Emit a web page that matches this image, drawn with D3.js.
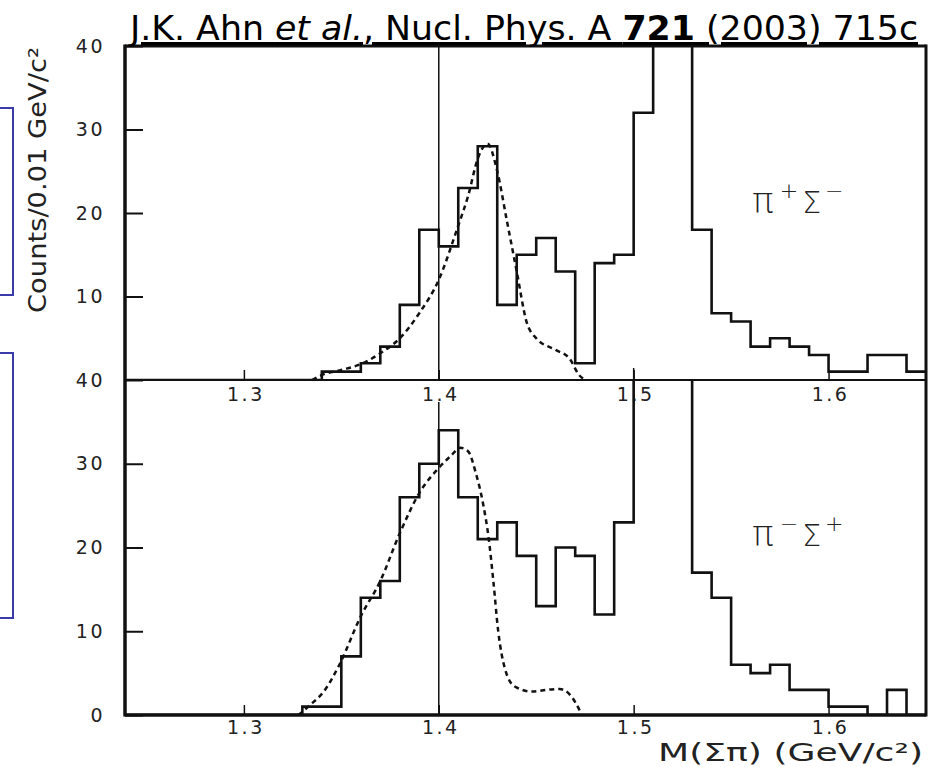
<!DOCTYPE html>
<html>
<head>
<meta charset="utf-8">
<script src="https://cdn.jsdelivr.net/npm/d3@7"></script>
<style>
  body { margin: 0; background: #fff; }
  svg { display: block; }
  .tick text { font-family: "DejaVu Sans", sans-serif; font-size: 19px; letter-spacing: 2.5px; fill: #222; }
  .narrow { font-family: "Liberation Sans Narrow", "DejaVu Sans Condensed", sans-serif; }
</style>
</head>
<body>
<svg id="chart" width="934" height="767"></svg>
<script>
// bin left edges, 0.01 GeV wide, from 1.24 to 1.64
const binEdges = d3.range(41).map(i => +(1.24 + i * 0.01).toFixed(2));

// pi+ Sigma- counts per bin (bins above 40 run off the panel)
const countsPlus = [
  0, 0, 0, 0, 0, 0, 0, 0, 0, 0,
  1, 1, 2, 4, 9, 18, 16, 23, 28, 9,
  15, 17, 13, 2, 14, 15, 32, 50, 60, 18,
  8, 7, 4, 5, 4, 3, 1, 1, 3, 3, 1
];

// pi- Sigma+ counts per bin
const countsMinus = [
  0, 0, 0, 0, 0, 0, 0, 0, 0, 1,
  1, 7, 14, 16, 26, 30, 34, 26, 21, 23,
  19, 13, 20, 19, 12, 23, 50, 60, 50, 17,
  14, 6, 5, 6, 3, 3, 1, 1, 0, 3, 0
];

// dashed fit curves
const fitPlusX = [1.335, 1.34, 1.35, 1.36, 1.37, 1.38, 1.39, 1.40, 1.41, 1.415, 1.42, 1.425, 1.43, 1.435, 1.44, 1.445, 1.45, 1.46, 1.467, 1.472, 1.475];
const fitPlusY = [0, 0.6, 1.2, 1.9, 3.2, 5, 8, 12, 18.5, 22, 26.5, 28.3, 25, 19, 13, 7, 5, 3.6, 2.6, 0.6, 0];
const fitMinusX = [1.328, 1.334, 1.341, 1.349, 1.36, 1.37, 1.38, 1.39, 1.40, 1.406, 1.411, 1.415, 1.419, 1.423, 1.4255, 1.428, 1.4305, 1.434, 1.439, 1.448, 1.455, 1.462, 1.467, 1.4735];
const fitMinusY = [0, 1.2, 2.8, 6, 11.8, 16, 21.7, 26.5, 29.5, 30.9, 31.9, 31.5, 28.9, 24.9, 21.3, 16, 10, 5.5, 3.4, 2.8, 3, 3.1, 2.5, 0];

const xTicks = [1.3, 1.4, 1.5, 1.6];
const yTicks = [10, 20, 30, 40];

const svg = d3.select("#chart");
const x = d3.scaleLinear().domain([1.239, 1.65]).range([125, 926]);
const yTop = d3.scaleLinear().domain([0, 40]).range([380, 46]);
const yBot = d3.scaleLinear().domain([0, 40]).range([715, 380]);

// blue boxes at the left edge
svg.append("rect").attr("x", -10).attr("y", 108).attr("width", 23).attr("height", 187)
  .attr("fill", "none").attr("stroke", "#3a3aa8").attr("stroke-width", 2);
svg.append("rect").attr("x", -10).attr("y", 353).attr("width", 23).attr("height", 265)
  .attr("fill", "none").attr("stroke", "#3a3aa8").attr("stroke-width", 2);

// pi / Sigma label with raised charge signs
function chargeLabel(xPos, yPos, s1, s2) {
  const t = svg.append("text").attr("x", xPos).attr("y", yPos)
    .attr("font-family", "DejaVu Sans, sans-serif").attr("font-weight", 200).attr("fill", "#222");
  t.append("tspan").attr("font-size", 36).text("π");
  t.append("tspan").attr("font-size", 22).attr("dx", 6).attr("dy", -15).text(s1);
  t.append("tspan").attr("font-size", 30).attr("dx", 4).attr("dy", 15).text("Σ");
  t.append("tspan").attr("font-size", 22).attr("dx", 4).attr("dy", -15).text(s2);
}

function drawPanel(y, counts, fitX, fitY, id, showZero) {
  const [y0, y1] = y.range();
  svg.append("clipPath").attr("id", id).append("rect")
    .attr("x", x.range()[0]).attr("y", y1).attr("width", x.range()[1] - x.range()[0]).attr("height", y0 - y1);

  // line at 1.4
  svg.append("line").attr("x1", x(1.4)).attr("x2", x(1.4))
    .attr("y1", showZero ? y1 + 22 : y1).attr("y2", y0)
    .attr("stroke", "#111").attr("stroke-width", 1.5);

  const pts = binEdges.map((e, i) => [e, counts[i]]);
  pts.push([1.65, counts[counts.length - 1]]);
  svg.append("path").attr("clip-path", `url(#${id})`)
    .attr("d", d3.line().x(d => x(d[0])).y(d => y(d[1])).curve(d3.curveStepAfter)(pts))
    .attr("fill", "none").attr("stroke", "#111").attr("stroke-width", 2.6);

  const fit = fitX.map((v, i) => [v, fitY[i]]);
  svg.append("path").attr("clip-path", `url(#${id})`)
    .attr("d", d3.line().x(d => x(d[0])).y(d => y(d[1])).curve(d3.curveMonotoneX)(fit))
    .attr("fill", "none").attr("stroke", "#111").attr("stroke-width", 2.5)
    .attr("stroke-dasharray", "5,4");

  // y axis, inward ticks
  const ya = svg.append("g").attr("transform", `translate(${x.range()[0]},0)`)
    .call(d3.axisLeft(y).tickValues(showZero ? [0, ...yTicks] : yTicks).tickSize(-18).tickPadding(20));
  ya.select(".domain").remove();
  ya.selectAll(".tick line").attr("stroke", "#111").attr("stroke-width", 2);

  // x axis along the bottom of the panel, labels below
  const xa = svg.append("g").attr("transform", `translate(0,${y0})`)
    .call(d3.axisBottom(x).tickValues(xTicks).tickFormat(d3.format(".1f")).tickSize(-10).tickPadding(showZero ? 6 : 8));
  xa.select(".domain").remove();
  xa.selectAll(".tick line").attr("stroke", "#111").attr("stroke-width", 1.5);
  xa.selectAll(".tick text").attr("dx", 1.5);
}

drawPanel(yTop, countsPlus, fitPlusX, fitPlusY, "clipTop", false);
drawPanel(yBot, countsMinus, fitMinusX, fitMinusY, "clipBot", true);
chargeLabel(752, 213, "+", "−");
chargeLabel(752, 546, "−", "+");

// scan artefact: 1.5 tick runs down through its label
svg.append("line").attr("x1", x(1.5)).attr("x2", x(1.5)).attr("y1", 368).attr("y2", 402)
  .attr("stroke", "#111").attr("stroke-width", 1.5);

// frame
const fx0 = x.range()[0], fx1 = x.range()[1];
svg.append("line").attr("x1", fx0).attr("x2", fx1).attr("y1", 46).attr("y2", 46).attr("stroke", "#111").attr("stroke-width", 3);
svg.append("line").attr("x1", fx0).attr("x2", fx1).attr("y1", 380).attr("y2", 380).attr("stroke", "#111").attr("stroke-width", 2);
svg.append("line").attr("x1", fx0).attr("x2", fx1).attr("y1", 715).attr("y2", 715).attr("stroke", "#111").attr("stroke-width", 3.5);
svg.append("line").attr("x1", fx0).attr("x2", fx0).attr("y1", 44.5).attr("y2", 716.5).attr("stroke", "#111").attr("stroke-width", 3.5);
svg.append("line").attr("x1", fx1).attr("x2", fx1).attr("y1", 44.5).attr("y2", 716.5).attr("stroke", "#111").attr("stroke-width", 3);

// axis titles
svg.append("text").attr("class", "narrow")
  .attr("transform", "translate(46,313) rotate(-90)")
  .attr("font-size", 25).attr("fill", "#222")
  .attr("textLength", 266).attr("lengthAdjust", "spacingAndGlyphs")
  .text("Counts/0.01 GeV/c²");

svg.append("text").attr("x", 658).attr("y", 761)
  .attr("font-family", "DejaVu Sans, sans-serif").attr("font-size", 25).attr("fill", "#222")
  .attr("textLength", 265).attr("lengthAdjust", "spacingAndGlyphs")
  .text("M(Σπ) (GeV/c²)");

// reference title
const title = svg.append("text").attr("class", "narrow")
  .attr("x", 130).attr("y", 40).attr("font-size", 33).attr("fill", "#000")
  .attr("text-decoration", "underline")
  .attr("textLength", 788).attr("lengthAdjust", "spacingAndGlyphs");
title.append("tspan").text("J.K. Ahn ");
title.append("tspan").attr("font-style", "italic").text("et al.");
title.append("tspan").text(", Nucl. Phys. A ");
title.append("tspan").attr("font-weight", "bold").text("721");
title.append("tspan").text(" (2003) 715c");
</script>
</body>
</html>
